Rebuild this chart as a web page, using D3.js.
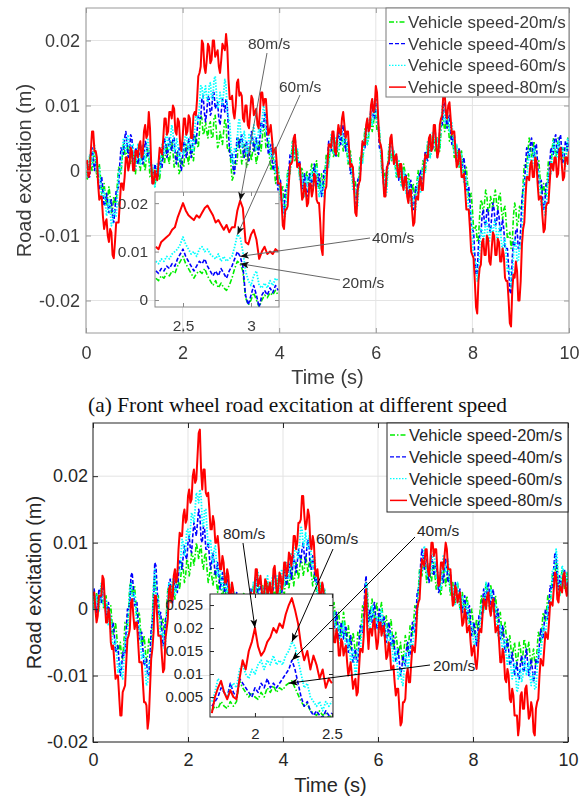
<!DOCTYPE html>
<html>
<head>
<meta charset="utf-8">
<script src="https://cdn.jsdelivr.net/npm/d3@7"></script>
<style>
  body { margin: 0; background: #fff; }
  svg { display: block; }
</style>
</head>
<body>
<svg id="chart" width="587" height="801"></svg>
<script>
// ---------- data ----------
const seriesLabels = ["Vehicle speed-20m/s", "Vehicle speed-40m/s", "Vehicle speed-60m/s", "Vehicle speed-80m/s"];
const calloutLabels = ["20m/s", "40m/s", "60m/s", "80m/s"];
const timeTicks = [0, 2, 4, 6, 8, 10];
const excitationTicks = [-0.02, -0.01, 0, 0.01, 0.02];
const recordLength = 10;   // s, traces below are evenly sampled over it (values in mm)
const insetStep = 0.02;    // s, zoomed traces (values in mm)

// Front wheel road excitation, mm, t = 0 .. 10 s
const front20 = [
  0,-1.5,0,2,1,0,2,3,1,-1,0,1,-1,-3.5,-3,-2,-4,-5.5,-4,-2.5,
  -4,-6.5,-6,-4,-5,-5,-2,0.5,0,-0.5,2,4,3,1.5,3,4,2,1,3,3,
  0,-0.5,2,3,1,0,2,3,1,0,2,3.5,2,-1,-1,0.5,-1,-2.5,-1,0.5,
  -1,-1.5,1,3,2,1,3,4,2,1,3,4.5,3,0.5,1,3,2,-0.5,0,2,
  1,0.5,3,4,2,1,3,4,2,1.5,4,5.5,4,3.5,6,8.5,8,5.5,6,7.5,
  6,5,7,7.5,5,5,8,8.5,6,3.5,4,6,5,4,6,8,7,3.5,3,3.5,
  1,-1.5,-1,1.5,1,1,4,5,3,1,2,4,3,0.5,1,3.5,3,1.5,3,4.5,
  3,1,2,4.5,4,3,5,7,6,3.5,4,4.5,2,0,1,2,0,-2,-1,0.5,
  -1,-3.5,-3,-2.5,-5,-5.5,-3,0,0,-0.5,2,4.5,4,1.5,2,3,1,-1,0,0.5,
  -2,-3,-1,0,-2,-2.5,0,1,-1,-1.5,1,1.5,-1,-3,-2,-0.5,-2,-2.5,0,2.5,
  2,1,3,5,4,2,3,4.5,3,2,4,6,5,3,4,5,3,1,2,3,
  1,-2,-2,-1.5,-4,-4,-1,2,2,1.5,4,6.5,6,4,5,8,8,6,7,9.5,
  9,6,6,6,3,0,0,0,-3,-2.5,1,4,4,1.5,2,3,1,-1,0,1.5,
  0,-2,-1,1,0,-2.5,-2,-0.5,-2,-4,-3,-2,-4,-4.5,-2,0,-1,-2.5,-1,1.5,
  1,0,2,4.5,4,2,3,5.5,5,3,4,5,3,3,6,8.5,8,6,7,8.5,
  7,4.5,5,6,4,2,3,4,2,0.5,2,3,1,-1,0,0.5,-2,-4.5,-4,-3.5,
  -6,-9,-9,-8.5,-11,-10.5,-7,-4.5,-5,-6.5,-5,-3,-4,-6.5,-6,-4,-5,-6,-4,-3,
  -5,-6,-4,-3.5,-6,-7.5,-6,-5.5,-8,-10.5,-10,-9.5,-12,-11,-7,-5,-6,-8.5,-8,-5.5,
  -6,-5.5,-2,1,1,0.5,3,5,4,2,3,4.5,3,0.5,1,1.5,-1,-3.5,-3,-2,
  -4,-4,-1,1.5,1,0.5,3,5,4,2,3,5,4,1.5,2,3.5,2,1,3,5,4
];
const front40 = [
  1,1.5,-1,-1,2,3.5,2,0,1,1.5,-1,-3,-2,-1,-3,-5.5,-5,-3.5,-5,-6.5,
  -5,-4.5,-7,-8,-6,-3,-3,-2.5,1,3.5,3,2.5,5,6,4,2,3,5.5,5,1.5,
  1,3.5,3,1,2,4,3,1,2,4.5,4,2,3,3,0,-2,-1,1,0,-1.5,
  0,2,1,0.5,3,5,4,2,3,5,4,3,5,5,2,1,3,3.5,1,0,
  2,4.5,4,2,3,5,4,2,3,5.5,5,4,6,8.5,8,8,11,11.5,9,7.5,
  9,11.5,11,8.5,9,12,12,9.5,10,10.5,8,7,9,11,10,9,11,10,6,2.5,
  2,2.5,0,-0.5,2,5,5,3.5,5,5.5,3,2,4,4.5,2,1.5,4,6,5,3,
  4,5,3,2.5,5,7.5,7,6.5,9,8.5,5,2.5,3,4,2,0,1,1.5,-1,-3,
  -2,-1.5,-4,-6.5,-6,-3,-3,-3,0,2.5,2,2,5,5.5,3,0.5,1,1.5,-1,-3,
  -2,-0.5,-2,-4,-3,-0.5,-1,-2.5,-1,1,0,-2.5,-2,-0.5,-2,-4,-3,0,0,-0.5,
  2,4.5,4,3,5,5.5,3,2,4,6,5,4,6,7,5,3,4,4.5,2,-0.5,
  0,0.5,-2,-5,-5,-1.5,-1,-1,2,4.5,4,3.5,6,7.5,6,6.5,10,10.5,8,8,
  11,10.5,7,3.5,3,2.5,-1,-3.5,-3,0.5,1,1,4,5,3,1,2,2.5,0,-1.5,
  0,1,-1,-2.5,-1,-0.5,-3,-4,-2,-1.5,-4,-6,-5,-2.5,-3,-3.5,-1,0,-2,-2,
  1,3,2,1.5,4,5,3,3,6,6.5,4,2,3,6.5,7,7,10,10.5,8,6.5,
  8,8.5,6,4,5,5.5,3,1,2,3.5,2,0,1,2,0,-3,-3,-2.5,-5,-8.5,
  -9,-9.5,-13,-16,-16,-11.5,-10,-10,-7,-6,-8,-8.5,-6,-6,-9,-9.5,-7,-5,-6,-8.5,
  -8,-6,-7,-9.5,-9,-7.5,-9,-12,-12,-12,-15,-18.5,-19,-13.5,-11,-11.5,-9,-9,-12,-12,
  -9,-4.5,-3,-2.5,1,3.5,3,2,4,5,3,2,4,4,1,-2,-2,-1.5,-4,-6,
  -5,-2,-2,-2,1,3.5,3,2.5,5,5.5,3,2.5,5,5.5,3,1,2,4.5,4,3,5
];
const front60 = [
  1,-1,0,2.5,2,1,3,4,2,-0.5,0,0.5,-2,-4.5,-4,-3,-5,-7,-6,-4.5,
  -6,-8.5,-8,-6,-7,-7,-4,-0.5,0,0,3,5,4,3,5,5.5,3,2,4,4,
  1,0,2,4,3,1,2,4,3,1.5,3,5,4,0.5,0,1,-1,-2.5,-1,1,
  0,-0.5,2,4,3,2.5,5,6,4,3,5,7,6,3,3,5,4,1.5,2,4,
  3,2.5,5,6,4,3,5,5.5,3,3,6,8.5,8,7.5,10,13,13,11,12,13,
  11,10.5,13,13.5,11,11,14,14.5,12,9.5,10,12,11,10,12,14,13,9,8,7.5,
  4,1,1,3.5,3,3.5,7,8,6,3.5,4,6,5,2.5,3,5.5,5,4,6,7,
  5,3,4,6.5,6,5.5,8,10,9,6,6,6.5,4,2,3,4,2,-0.5,0,0.5,
  -2,-4.5,-4,-4,-7,-7,-4,-0.5,0,-0.5,2,4.5,4,2,3,3.5,1,-1.5,-1,-0.5,
  -3,-4,-2,-1,-3,-3.5,-1,0,-2,-2.5,0,0.5,-2,-4,-3,-2,-4,-4,-1,1.5,
  1,0.5,3,5.5,5,2.5,3,5,4,3,5,7,6,4,5,6,4,1.5,2,2.5,
  0,-3,-3,-3,-6,-5.5,-2,1.5,2,1,3,6,6,4,5,8.5,9,7,8,11,
  11,7.5,7,6.5,3,-0.5,-1,-1,-4,-3.5,0,3.5,4,1.5,2,3,1,-1,0,1.5,
  0,-2.5,-2,0,-1,-3.5,-3,-1.5,-3,-5.5,-5,-4,-6,-6,-3,-1,-2,-3.5,-2,0.5,
  0,-0.5,2,4.5,4,2,3,6,6,3.5,4,5,3,3.5,7,10,10,7.5,8,9.5,
  8,6,7,7.5,5,2.5,3,4,2,0.5,2,2.5,0,-2,-1,-1,-4,-6.5,-6,-6.5,
  -10,-13.5,-14,-14,-17,-16,-12,-9,-9,-11,-10,-7.5,-8,-11,-11,-8.5,-9,-10,-8,-7.5,
  -10,-11,-9,-8.5,-11,-12.5,-11,-10.5,-13,-15.5,-15,-15,-18,-17,-13,-10.5,-11,-14,-14,-11.5,
  -12,-10,-5,-1.5,-1,-1.5,1,3,2,0,1,3.5,3,0,0,0,-3,-5.5,-5,-4.5,
  -7,-6.5,-3,0,0,-0.5,2,4.5,4,1.5,2,4.5,4,2,3,3.5,1,0.5,3,5,4
];
const front80 = [
  1,1.5,-1,-0.5,3,6,6,3,3,2,-2,-4.5,-4,-4,-7,-9,-8,-7.5,-10,-11,
  -9,-9.5,-13,-13.5,-11,-8,-8,-8,-5,-2,-2,-3,-1,2,2,0,1,3.5,3,0,
  0,3,3,2,4,4.5,2,2.5,6,7,5,5.5,9,6.5,1,-2,-2,0,-1,-1.5,
  1,3.5,3,2.5,5,8,8,5.5,6,9,9,8,10,9.5,6,5.5,8,7.5,4,3,
  5,8,8,5.5,6,8.5,8,5,5,8.5,9,8.5,11,14.5,15,16,20,19.5,16,15,
  17,19.5,19,16.5,17,20,20,17.5,18,18.5,16,15,17,19.5,19,18.5,21,19,14,11,
  11,11.5,9,8,10,13.5,14,11.5,12,11.5,8,7.5,10,10,7,6.5,9,11.5,11,8.5,
  9,9.5,7,6.5,9,12,12,10,11,11,8,5.5,6,7,5,2.5,3,3.5,1,-2,
  -2,-2,-5,-8.5,-9,-6,-6,-5.5,-2,1,1,1.5,5,5.5,3,0.5,1,1,-2,-4.5,
  -4,-2,-3,-5.5,-5,-2,-2,-4,-3,-0.5,-1,-4.5,-5,-5,-8,-12,-13,-6.5,-3,-2.5,
  1,4,4,3.5,6,6,3,2.5,5,7,6,5.5,8,9,7,5,6,6,3,0.5,
  1,0.5,-3,-6.5,-7,-3,-2,-1.5,2,4.5,4,4,7,8,6,6.5,10,11,9,9.5,
  13,12,8,4.5,4,3,-1,-4,-4,0,1,1.5,5,5.5,3,1,2,2.5,0,-1,
  1,1,-2,-3,-1,-1,-4,-5,-3,-3,-6,-8.5,-8,-4.5,-4,-4.5,-2,-1,-3,-3,
  0,2.5,2,2,5,5.5,3,3.5,7,7,4,2,3,7,8,8.5,12,12,9,8,
  10,10.5,8,5.5,6,6,3,0.5,1,3,2,-1,-1,-0.5,-3,-6,-6,-6,-9,-12.5,
  -13,-13.5,-17,-21,-22,-17,-15,-14.5,-11,-10.5,-13,-13,-10,-10.5,-14,-14.5,-12,-9.5,-10,-13,
  -13,-10.5,-11,-14,-14,-12,-13,-16.5,-17,-17,-20,-23.5,-24,-18.5,-16,-16.5,-14,-15.5,-20,-20,
  -17,-11.5,-9,-8,-4,-1,-1,-1.5,1,1.5,-1,-1,2,1.5,-2,-4.5,-4,-4,-7,-9.5,
  -9,-5.5,-5,-5,-2,1,1,0,2,2,-1,-0.5,3,3.5,1,-1.5,-1,2,2,1,3
];

// Front wheel, close-up from t = 2.30 s
const frontZoomStart = 2.30;
const frontZoom20 = [4.5,4,5,4.5,5.5,5,6,5.5,7,8, 9,7.5,6.5,5.5,4.5,5.5,6,5.5,6.5,5, 4,3,4,2.5,3.5,2.5,2,3,4.5,6.5, 8,7.5,6,0.5,-1,0,1.5,0,-1.5,0, 1,0.5,1.5,1,2,1];
const frontZoom40 = [6,5.5,6.5,6,7,6.5,7.5,7,8.5,9.5, 10.5,9,8,7,6,7,8,7.5,8.5,7, 6,5,6,5,6.5,5.5,4.5,6,7,8.5, 10,9,7,1,-1,1,3,1,-1.5,1, 2,1,2.5,1.5,3,2];
const frontZoom60 = [8,7.5,8.5,8,9,8.5,9.5,10,10.5,11.5, 13,11.5,10.5,9.5,10,9,10.5,11,10,10.5, 9.5,9,8.5,9.5,8,9,8,8.5,9,11, 13.5,13,10,6,4,3,5,6,3,2.5, 3.5,2.5,4,3,4.5,4];
const frontZoom80 = [11,10.5,12,12.5,13,13.5,14.5,15,17,18.5, 20,18.5,17.5,17,16.5,17.5,17,18,19,19.5, 18.5,17.5,16,16.5,15.5,14.5,15.5,14,15,15, 18.5,20.5,19,12,11.5,13.5,14.5,12.5,8.5,10, 11,9.5,10,9.5,10.5,10];

// Rear wheel road excitation, mm, t = 0 .. 10 s
const rear20 = [
  2,0,1,2.5,1,0,2,3.5,2,0,1,2,0,-1.5,0,0.5,-2,-4,-3,-2,
  -4,-6.5,-6,-5,-7,-7.5,-5,-2,-2,-2.5,0,3.5,4,2,3,3.5,1,-1.5,-1,-0.5,
  -3,-5.5,-5,-4,-6,-8,-7,-4.5,-5,-4.5,-1,3.5,5,2,2,2,-1,-3,-2,-1.5,
  -4,-3.5,0,3,3,1,2,4,3,1.5,3,5,4,3,5,7,6,4,5,7.5,
  7,5,6,8.5,8,6.5,8,10,9,7.5,9,9.5,7,6,8,8.5,6,4,5,6.5,
  5,3.5,5,6,4,2.5,4,5,3,1.5,3,4,2,1,3,3.5,1,-0.5,1,2.5,
  1,-0.5,1,2,0,-1,1,2.5,1,-1,0,2,1,0,2,3.5,2,1,3,4.5,
  3,1,2,3.5,2,1,3,4,2,0.5,2,4,3,1.5,3,4.5,3,1.5,3,4.5,
  3,2,4,5.5,4,3,5,6.5,5,3.5,5,7,6,4.5,6,8,7,5,6,8,
  7,5.5,7,7.5,5,3.5,5,5.5,3,1.5,3,4,2,0.5,2,3,1,-1,0,1,
  -1,-2,0,1,-1,-2.5,-1,-0.5,-3,-4,-2,-0.5,-2,-4.5,-4,-2.5,-4,-6,-5,-3.5,
  -5,-7,-6,-3.5,-4,-4.5,-2,0.5,0,0.5,4,3,-1,-2,0,1.5,0,-1.5,0,1,
  -1,-2,0,1,-1,-3,-2,-1,-3,-4,-2,-1.5,-4,-6,-5,-3.5,-5,-7,-6,-5,
  -7,-8,-6,-4,-5,-6.5,-5,-2.5,-3,-4,-2,0.5,0,0,3,6,6,5,7,8,
  6,4,5,6.5,5,4,6,7,5,3,4,5,3,2,4,6,5,3.5,5,6,
  4,2,3,4,2,1,3,4,2,0,1,2.5,1,-0.5,1,2,0,-2,-1,0,
  -2,-4,-3,-1.5,-3,-3,0,2,1,0,2,4,3,1,2,3.5,2,0,1,2,
  0,-2,-1,-0.5,-3,-4.5,-3,-2,-4,-6,-5,-4,-6,-7.5,-6,-5,-7,-8.5,-7,-5,
  -6,-8,-7,-4.5,-5,-7,-6,-5,-7,-8.5,-7,-6,-8,-8.5,-6,-3.5,-4,-5,-3,-0.5,
  -1,-2,0,2,1,0.5,3,5.5,5,4.5,7,6.5,3,2,4,6,5,3,4,5.5,4
];
const rear40 = [
  2,3,1,-0.5,1,3,2,1,3,3.5,1,-1,0,1,-1,-3.5,-3,-2,-4,-6.5,
  -6,-5.5,-8,-10,-9,-6.5,-7,-6.5,-3,0,0,1,5,5.5,3,0.5,1,1,-2,-4.5,
  -4,-3.5,-6,-8.5,-8,-7.5,-10,-10,-7,-3,-2,1,7,6.5,3,-0.5,-1,-0.5,-3,-5.5,
  -5,-1.5,-1,0,4,4.5,2,1,3,4.5,3,2.5,5,7.5,7,6,8,9.5,8,7.5,
  10,11,9,8.5,11,13,12,11,13,15,14,10.5,10,12.5,12,9,9,10,8,6,
  7,8.5,7,5,6,7,5,3,4,5.5,4,2,3,4.5,3,0.5,1,3,2,0,
  1,2.5,1,-1,0,1.5,0,-1,1,2,0,-1,1,3,2,1,3,5,4,2,
  3,4,2,0.5,2,4,3,1.5,3,4,2,1.5,4,5.5,4,2,3,5,4,2.5,
  4,6,5,3.5,5,7,6,4.5,6,8,7,5.5,7,9,8,7,9,10,8,7,
  9,10.5,9,6,6,8,7,4,4,5,3,1,2,4,3,0.5,1,2,0,-2,
  -1,0.5,-1,-3,-2,-0.5,-2,-4.5,-4,-2,-3,-4.5,-3,-2.5,-5,-6.5,-5,-4,-6,-8,
  -7,-6,-8,-8,-5,-2.5,-3,-3.5,-1,3.5,5,0,-2,0,-1,-2,0,1,-1,-3,
  -2,0,-1,-3,-2,-1,-3,-5,-4,-2,-3,-5.5,-5,-4,-6,-8,-7,-6,-8,-10,
  -9,-7,-8,-8.5,-6,-5,-7,-7,-4,-2,-3,-3.5,-1,2.5,3,3.5,7,9,8,6,
  7,7.5,5,4,6,8,7,5,6,7,5,2.5,3,5.5,5,4,6,7.5,6,4,
  5,5.5,3,1,2,4,3,1,2,3,1,-0.5,1,2,0,-1.5,0,0.5,-2,-4,
  -3,-2,-4,-5.5,-4,-1,-1,-1.5,1,3,2,1,3,4,2,0.5,2,3,1,-1.5,
  -1,0,-2,-4.5,-4,-2.5,-4,-6.5,-6,-4.5,-6,-8.5,-8,-6.5,-8,-10,-9,-8,-10,-10.5,
  -8,-7,-9,-9.5,-7,-6,-8,-10,-9,-7.5,-9,-11,-10,-7.5,-8,-8,-5,-3,-4,-4.5,
  -2,0,-1,-1.5,1,3.5,3,3,6,8.5,8,4,3,5,4,3,5,6,4,2.5,4
];
const rear60 = [
  2,0,1,2,0,-0.5,2,4,3,0.5,1,1.5,-1,-2.5,-1,-1,-4,-6,-5,-4.5,
  -7,-9.5,-9,-8,-10,-10.5,-8,-4.5,-4,-4,-1,3,4,1.5,2,2.5,0,-3,-3,-2.5,
  -5,-7.5,-7,-6.5,-9,-11.5,-11,-8,-8,-7,-3,3,6,2.5,2,1.5,-2,-4.5,-4,-3.5,
  -6,-5.5,-2,2.5,4,1.5,2,4.5,4,2,3,6,6,5.5,8,10.5,10,8,9,12,
  12,10.5,12,14.5,14,13,15,17.5,17,16,18,17,13,12.5,15,15,12,9.5,10,10.5,
  8,7,9,9.5,7,5,6,6.5,4,3,5,5.5,3,2,4,4,1,0,2,2.5,
  0,-1,1,1.5,-1,-2,0,2,1,-1.5,-1,1,0,-0.5,2,4,3,2.5,5,5.5,
  3,1,2,3.5,2,1.5,4,5,3,1,2,5,5,3,4,5,3,2.5,5,6,
  4,3.5,6,7,5,4.5,7,8.5,7,6.5,9,10,8,7.5,10,12.5,12,9.5,10,11.5,
  10,9,11,10.5,7,6,8,7.5,4,2,3,4,2,1,3,3,0,-1.5,0,0.5,
  -2,-3,-1,-0.5,-3,-4.5,-3,-2.5,-5,-5.5,-3,-2,-4,-6.5,-6,-4.5,-6,-8,-7,-6,
  -8,-10,-9,-6,-6,-6.5,-4,-1.5,-2,-0.5,4,2,-3,-3.5,-1,0.5,-1,-3,-2,-1,
  -3,-3.5,-1,0,-2,-4,-3,-2.5,-5,-6,-4,-3.5,-6,-8,-7,-6,-8,-10.5,-10,-9,
  -11,-11.5,-9,-6.5,-7,-9,-8,-5,-5,-6,-4,-1.5,-2,-1.5,2,5.5,6,5.5,8,9.5,
  8,5,5,7,6,5.5,8,9,7,4.5,5,5.5,3,3,6,8,7,5.5,7,7.5,
  5,2.5,3,3.5,1,0.5,3,4,2,0,1,2,0,-1.5,0,1,-1,-3.5,-3,-2,
  -4,-6,-5,-3.5,-5,-5,-2,0.5,0,-0.5,2,4,3,0.5,1,3,2,-0.5,0,0.5,
  -2,-4,-3,-2.5,-5,-6.5,-5,-4.5,-7,-8.5,-7,-6.5,-9,-10.5,-9,-8,-10,-12.5,-12,-9,
  -9,-11,-10,-7.5,-8,-10,-9,-8,-10,-11.5,-10,-9.5,-12,-12,-9,-6,-6,-7,-5,-2.5,
  -3,-4,-2,0.5,0,0,3,6,6,6,9,7.5,3,2,4,6.5,6,3.5,4,5.5,4
];
const rear80 = [
  2,2.5,0,-2,-1,2,2,2,5,4.5,1,-2,-2,0,-1,-5,-6,-5.5,-8,-10.5,
  -10,-10,-13,-16,-16,-12.5,-12,-11.5,-8,-4.5,-4,-3,1,1.5,-1,-3,-2,-2,-5,-8,
  -8,-8,-11,-14,-14,-14.5,-18,-16.5,-12,-7.5,-6,-3.5,2,2,-1,-4,-4,-4,-7,-9.5,
  -9,-4.5,-3,-1.5,3,3.5,1,1.5,5,6,4,5,9,11.5,11,11,14,15,13,13.5,
  17,18,16,16.5,20,21,19,19.5,23,26.5,27,21,18,21,21,17.5,17,17.5,15,12,
  12,14,13,10,10,11,9,6,6,8,7,4,4,6,5,2,2,4,3,0,
  0,2,1,-2,-2,0.5,0,-1,1,1.5,-1,-2,0,2.5,2,1,3,6,6,3.5,
  4,5,3,1,2,4.5,4,2,3,4,2,2.5,6,6.5,4,2,3,5.5,5,3,
  4,7,7,5,6,8.5,8,6.5,8,11,11,9,10,13,13,13.5,17,17,14,12,
  13,15,14,10,9,11,10,6,5,6,4,1.5,2,4,3,-0.5,-1,1,0,-3,
  -3,-1,-2,-5,-5,-3,-4,-7,-7,-4.5,-5,-7,-6,-5.5,-8,-10,-9,-8,-10,-12,
  -11,-10.5,-13,-12.5,-9,-6,-6,-6.5,-4,1,3,-3,-6,-3,-3,-4,-2,-1.5,-4,-6,
  -5,-2,-2,-4,-3,-2.5,-5,-7.5,-7,-5,-6,-9,-9,-8.5,-11,-13,-12,-12,-15,-17.5,
  -17,-14,-14,-13.5,-10,-9,-11,-11,-8,-5.5,-6,-6.5,-4,0,1,1.5,5,7.5,7,6.5,
  9,9,6,5,7,10,10,8,9,9,6,3.5,4,7,7,6,8,10,9,6,
  6,6,3,0.5,1,3.5,3,1,2,2.5,0,-2.5,-2,0,-1,-3.5,-3,-2.5,-5,-7,
  -6,-5.5,-8,-9,-7,-3.5,-3,-3.5,-1,1.5,1,0,2,2.5,0,-1,1,1.5,-1,-3.5,
  -3,-2.5,-5,-8,-8,-6,-7,-10.5,-11,-9,-10,-13.5,-14,-12,-13,-16,-16,-16,-19,-17.5,
  -13,-12.5,-15,-15,-12,-11.5,-14,-16.5,-16,-14,-15,-18.5,-19,-15,-14,-13.5,-10,-7.5,-8,-8.5,
  -6,-3.5,-4,-4.5,-2,1,1,0.5,3,5.5,5,1.5,1,3.5,3,2.5,5,5.5,3,2,4
];

// Rear wheel, close-up from t = 1.72 s
const rearZoomStart = 1.72;
const rearZoom20 = [2,3,2.5,4,3,2.5,4,3,4,8.5, 7,6,5,6,5,4.5,6,5,7,6, 7.5,6,7,6.5,7.5,8,8.5,7,5.5,4, 3,3.5,2,1.5,1,2,1,1.5,0.5,1];
const rearZoom40 = [3,4,5,7,6,5,8,6,5,9, 8,7,6,5,7,6,8,7,9,7, 8,7,8,9,10,11,13,11,8,5, 3,4,2,1,2,1,0.5,2,1,1.5];
const rearZoom60 = [4,6,9,8,6,5,7,8,7,11, 12,10,9,11,10,12,13,11,13,12, 14,12,13,12,14,15,17,16,13,10, 7,8,5,4,3,4,2,4,3,4];
const rearZoom80 = [1.5,5,7,8.5,6,4.5,6.5,5,4.5,9, 13,11,15,17,20,16,14,15,17,18, 20,19,21,20,23,25,26.5,24,21,16, 13,15,11,14,12,9,11,7,9,8];

// ---------- styles ----------
const traceStyles = [
  { color: "#00ee00", dash: "5,2,1.5,2", width: 1.6, legendWidth: 1.3 },  // 20 m/s, dash-dot
  { color: "#0000ff", dash: "4,2",       width: 1.6, legendWidth: 1.3 },  // 40 m/s, dashed
  { color: "#00ffff", dash: "1.5,1.5",   width: 1.8, legendWidth: 1.4 },  // 60 m/s, dotted
  { color: "#ff0000", dash: null,        width: 2.0, legendWidth: 1.5 }   // 80 m/s, solid
];
const SANS = "'Liberation Sans', Arial, Helvetica, sans-serif";
const SERIF = "'Liberation Serif', 'Times New Roman', serif";

const fmtTick = v => String(+v.toFixed(4));

const svg = d3.select("#chart");
const defs = svg.append("defs");
defs.append("filter").attr("id", "soft")
  .attr("x", "-2%").attr("y", "-2%").attr("width", "104%").attr("height", "104%")
  .append("feGaussianBlur").attr("stdDeviation", 0.55);

function addArrowMarker(id, color) {
  defs.append("marker").attr("id", id)
    .attr("viewBox", "0 0 10 8").attr("refX", 10).attr("refY", 4)
    .attr("markerUnits", "userSpaceOnUse")
    .attr("markerWidth", 9).attr("markerHeight", 7).attr("orient", "auto")
    .append("path").attr("d", "M0,0 L10,4 L0,8 L2.5,4 Z").attr("fill", color);
}
addArrowMarker("arrow-front", "#111");
addArrowMarker("arrow-rear", "#000");

// sample time of point k in a trace of n evenly spaced samples
function drawTraces(g, x, y, seriesList, t0, stepFor) {
  const line = d3.line().x(d => x(d.t)).y(d => y(d.v));
  seriesList.forEach((vals, i) => {
    const step = stepFor(vals.length);
    const pts = vals.map((v, k) => ({ t: t0 + k * step, v: v / 1000 }));
    const s = traceStyles[i];
    g.append("path")
      .attr("d", line(pts))
      .attr("fill", "none")
      .attr("stroke", s.color)
      .attr("stroke-width", s.width)
      .attr("stroke-dasharray", s.dash)
      .attr("stroke-linejoin", "round");
  });
}

function styleAxis(g, color, size) {
  g.attr("font-family", SANS).attr("font-size", size);
  g.select(".domain").remove();
  g.selectAll(".tick line").attr("stroke", color);
  g.selectAll(".tick text").attr("fill", color);
}

function drawPanel(p) {
  const root = svg.append("g");
  if (p.soft) root.attr("filter", "url(#soft)");

  const x = d3.scaleLinear().domain([0, recordLength]).range([p.left, p.right]);
  const y = d3.scaleLinear().domain(p.yDomain).range([p.bottom, p.top]);

  const clipId = p.id + "-clip";
  defs.append("clipPath").attr("id", clipId).append("rect")
    .attr("x", p.left).attr("y", p.top)
    .attr("width", p.right - p.left).attr("height", p.bottom - p.top);

  // grid
  const grid = root.append("g").attr("stroke", p.gridColor).attr("stroke-width", 1);
  grid.selectAll(".gx").data(timeTicks).join("line")
    .attr("x1", d => x(d)).attr("x2", d => x(d))
    .attr("y1", p.top).attr("y2", p.bottom);
  grid.selectAll(".gy").data(excitationTicks).join("line")
    .attr("x1", p.left).attr("x2", p.right)
    .attr("y1", d => y(d)).attr("y2", d => y(d));

  // traces
  const plot = root.append("g").attr("clip-path", `url(#${clipId})`);
  drawTraces(plot, x, y, p.series, 0, n => recordLength / (n - 1));

  // axes with inward ticks on all four sides
  const ax = root.append("g");
  const xb = ax.append("g").attr("transform", `translate(0,${p.bottom})`)
    .call(d3.axisBottom(x).tickValues(timeTicks).tickFormat(fmtTick)
      .tickSizeInner(-5).tickSizeOuter(0).tickPadding(p.xPad));
  styleAxis(xb, p.textColor, p.tickFont);
  xb.selectAll(".tick line").attr("stroke", p.frameColor);
  const xt = ax.append("g").attr("transform", `translate(0,${p.top})`)
    .call(d3.axisTop(x).tickValues(timeTicks).tickFormat("").tickSizeInner(-5).tickSizeOuter(0));
  styleAxis(xt, p.frameColor, p.tickFont);
  const yl = ax.append("g").attr("transform", `translate(${p.left},0)`)
    .call(d3.axisLeft(y).tickValues(excitationTicks).tickFormat(fmtTick)
      .tickSizeInner(-5).tickSizeOuter(0).tickPadding(p.yPad));
  styleAxis(yl, p.textColor, p.tickFont);
  yl.selectAll(".tick line").attr("stroke", p.frameColor);
  const yr = ax.append("g").attr("transform", `translate(${p.right},0)`)
    .call(d3.axisRight(y).tickValues(excitationTicks).tickFormat("").tickSizeInner(-5).tickSizeOuter(0));
  styleAxis(yr, p.frameColor, p.tickFont);

  root.append("rect")
    .attr("x", p.left).attr("y", p.top)
    .attr("width", p.right - p.left).attr("height", p.bottom - p.top)
    .attr("fill", "none").attr("stroke", p.frameColor).attr("stroke-width", 1);

  // axis titles
  root.append("text")
    .attr("x", (p.left + p.right) / 2).attr("y", p.xTitleY)
    .attr("text-anchor", "middle").attr("font-family", SANS).attr("font-size", 20)
    .attr("fill", p.textColor).text("Time (s)");
  root.append("text")
    .attr("transform", `translate(${p.yTitleX},${(p.top + p.bottom) / 2}) rotate(-90)`)
    .attr("text-anchor", "middle").attr("font-family", SANS).attr("font-size", 20)
    .attr("fill", p.textColor).text("Road excitation (m)");

  // inset close-up
  const ins = p.inset;
  const ix = d3.scaleLinear().domain(ins.xDomain).range([ins.left, ins.right]);
  const iy = d3.scaleLinear().domain(ins.yDomain).range([ins.bottom, ins.top]);
  const ig = root.append("g");
  ig.append("rect")
    .attr("x", ins.left).attr("y", ins.top)
    .attr("width", ins.right - ins.left).attr("height", ins.bottom - ins.top)
    .attr("fill", "#fff");
  const iclip = p.id + "-inset-clip";
  defs.append("clipPath").attr("id", iclip).append("rect")
    .attr("x", ins.left).attr("y", ins.top)
    .attr("width", ins.right - ins.left).attr("height", ins.bottom - ins.top);
  drawTraces(ig.append("g").attr("clip-path", `url(#${iclip})`), ix, iy, ins.series, ins.t0, () => insetStep);

  const ixa = ig.append("g").attr("transform", `translate(0,${ins.bottom})`)
    .call(d3.axisBottom(ix).tickValues(ins.xTicks).tickFormat(fmtTick)
      .tickSizeInner(-4).tickSizeOuter(0).tickPadding(ins.xPad));
  styleAxis(ixa, p.textColor, ins.font);
  ixa.selectAll(".tick line").attr("stroke", p.insetFrame);
  const iya = ig.append("g").attr("transform", `translate(${ins.left},0)`)
    .call(d3.axisLeft(iy).tickValues(ins.yTicks).tickFormat(fmtTick)
      .tickSizeInner(-4).tickSizeOuter(0).tickPadding(ins.yPad));
  styleAxis(iya, p.textColor, ins.font);
  iya.selectAll(".tick line").attr("stroke", p.insetFrame);
  const ixt = ig.append("g").attr("transform", `translate(0,${ins.top})`)
    .call(d3.axisTop(ix).tickValues(ins.xTicks).tickFormat("").tickSizeInner(-4).tickSizeOuter(0));
  styleAxis(ixt, p.insetFrame, ins.font);
  const iyr = ig.append("g").attr("transform", `translate(${ins.right},0)`)
    .call(d3.axisRight(iy).tickValues(ins.yTicks).tickFormat("").tickSizeInner(-4).tickSizeOuter(0));
  styleAxis(iyr, p.insetFrame, ins.font);
  ig.append("rect")
    .attr("x", ins.left).attr("y", ins.top)
    .attr("width", ins.right - ins.left).attr("height", ins.bottom - ins.top)
    .attr("fill", "none").attr("stroke", p.insetFrame).attr("stroke-width", 1);

  // legend
  const lg = p.legend;
  const leg = root.append("g");
  leg.append("rect")
    .attr("x", lg.left).attr("y", lg.top).attr("width", lg.width).attr("height", lg.height)
    .attr("fill", "#fff").attr("stroke", p.legendFrame).attr("stroke-width", 1);
  seriesLabels.forEach((label, i) => {
    const cy = lg.top + lg.firstRow + i * lg.rowStep;
    const s = traceStyles[i];
    leg.append("line")
      .attr("x1", lg.left + 3).attr("x2", lg.left + 20)
      .attr("y1", cy).attr("y2", cy)
      .attr("stroke", s.color).attr("stroke-width", s.legendWidth)
      .attr("stroke-dasharray", s.dash);
    leg.append("text")
      .attr("x", lg.left + 22).attr("y", cy + 6)
      .attr("font-family", SANS).attr("font-size", lg.font)
      .attr("fill", p.textColor).text(label);
  });

  // callouts pointing into the close-up
  const notes = root.append("g");
  p.callouts.forEach(c => {
    const vals = ins.series[c.series];
    const k = Math.round((c.t - ins.t0) / insetStep);
    const tipX = ix(ins.t0 + k * insetStep);
    const tipY = iy(vals[k] / 1000);
    notes.append("line")
      .attr("x1", c.fromX).attr("y1", c.fromY)
      .attr("x2", tipX).attr("y2", tipY)
      .attr("stroke", p.calloutColor).attr("stroke-width", 1)
      .attr("marker-end", `url(#${p.arrowId})`);
    notes.append("text")
      .attr("x", c.textX).attr("y", c.textY)
      .attr("font-family", SANS).attr("font-size", 15.5)
      .attr("fill", p.textColor).text(calloutLabels[c.series]);
  });
}

// Front wheel panel
drawPanel({
  id: "front", soft: true,
  left: 86, right: 569, top: 8, bottom: 333,
  yDomain: [-0.025, 0.025],
  series: [front20, front40, front60, front80],
  gridColor: "#e4e4e4", frameColor: "#9a9a9a", textColor: "#3a3a3a",
  insetFrame: "#8a8a8a", legendFrame: "#7a7a7a", calloutColor: "#666",
  arrowId: "arrow-front",
  tickFont: 18, xPad: 13, yPad: 6, xTitleY: 384, yTitleX: 31,
  inset: {
    left: 155, right: 279, top: 192, bottom: 307,
    xDomain: [2.294, 3.206], yDomain: [-0.00144, 0.0223],
    xTicks: [2.5, 3], yTicks: [0, 0.01, 0.02],
    t0: frontZoomStart, series: [frontZoom20, frontZoom40, frontZoom60, frontZoom80],
    font: 15.5, xPad: 13, yPad: 7
  },
  legend: { left: 386, top: 8, width: 183, height: 89, firstRow: 14, rowStep: 21.7, font: 17 },
  callouts: [
    { series: 3, t: 2.92, fromX: 267, fromY: 53, textX: 248, textY: 49 },
    { series: 2, t: 2.90, fromX: 300, fromY: 95, textX: 279, textY: 92 },
    { series: 1, t: 2.92, fromX: 370, fromY: 238, textX: 372, textY: 243 },
    { series: 0, t: 2.92, fromX: 340, fromY: 280, textX: 342, textY: 288 }
  ]
});

// caption between the two panels
svg.append("text")
  .attr("x", 88).attr("y", 412)
  .attr("font-family", SERIF).attr("font-size", 21)
  .attr("textLength", 419).attr("lengthAdjust", "spacingAndGlyphs")
  .attr("fill", "#111").text("(a) Front wheel road excitation at different speed");

// Rear wheel panel
drawPanel({
  id: "rear", soft: false,
  left: 93, right: 568, top: 423, bottom: 742,
  yDomain: [-0.02, 0.028],
  series: [rear20, rear40, rear60, rear80],
  gridColor: "#e3e3e3", frameColor: "#262626", textColor: "#262626",
  insetFrame: "#262626", legendFrame: "#262626", calloutColor: "#000",
  arrowId: "arrow-rear",
  tickFont: 18, xPad: 11, yPad: 5, xTitleY: 792, yTitleX: 41,
  inset: {
    left: 210, right: 333, top: 594, bottom: 717,
    xDomain: [1.708, 2.507], yDomain: [0.00065, 0.0274],
    xTicks: [2, 2.5], yTicks: [0.005, 0.01, 0.015, 0.02, 0.025],
    t0: rearZoomStart, series: [rearZoom20, rearZoom40, rearZoom60, rearZoom80],
    font: 15, xPad: 11, yPad: 7
  },
  legend: { left: 387, top: 423, width: 181, height: 89, firstRow: 12, rowStep: 21.8, font: 16.5 },
  callouts: [
    { series: 3, t: 2.00, fromX: 243, fromY: 543, textX: 223, textY: 539 },
    { series: 2, t: 2.24, fromX: 333, fromY: 549, textX: 316, textY: 544 },
    { series: 1, t: 2.24, fromX: 415, fromY: 537, textX: 417, textY: 536 },
    { series: 0, t: 2.22, fromX: 430, fromY: 665, textX: 433, textY: 671 }
  ]
});
</script>
</body>
</html>
